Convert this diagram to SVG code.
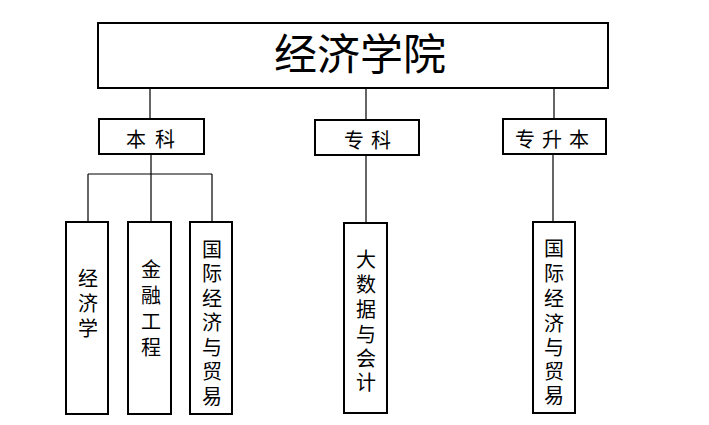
<svg xmlns="http://www.w3.org/2000/svg" width="709" height="425" viewBox="0 0 709 425">
<style>
.box{fill:#fff;stroke:#000;stroke-width:2}
.ln{fill:none;stroke:#000;stroke-width:1.2}
text{font-family:"Noto Sans CJK SC","Noto Sans",sans-serif;fill:#000;dominant-baseline:central;text-anchor:middle}
.t{font-size:20px}
.title{font-size:43px}
</style>
<rect width="709" height="425" fill="#fff"/>
<g id="connectors">
<path class="ln" d="M150 88V119M366 88V120M554 88V119"/>
<path class="ln" d="M151 154V222M88 174H212M88 174V222M212 174V222"/>
<path class="ln" d="M366 155V223M553 154V222"/>
</g>
<g id="n-root"><rect class="box" x="98" y="23" width="510" height="65"/><text class="title" x="360" y="51">经济学院</text></g>
<g id="n-benke"><rect class="box" x="99" y="119" width="105" height="35"/><text class="t" x="136 165" y="138">本科</text></g>
<g id="n-zhuanke"><rect class="box" x="315" y="120" width="104" height="35"/><text class="t" x="354 381" y="139">专科</text></g>
<g id="n-zsb"><rect class="box" x="503" y="119" width="103" height="35"/><text class="t" x="525 552 579" y="138">专升本</text></g>
<g id="n-jjx"><rect class="box" x="66" y="222" width="42" height="192"/><text class="t" x="88 88 88" y="277 302 327">经济学</text></g>
<g id="n-jrgc"><rect class="box" x="128" y="222" width="43" height="192"/><text class="t" x="151 151 151 151" y="268 294 320 346">金融工程</text></g>
<g id="n-gjjj1"><rect class="box" x="190" y="222" width="42" height="192"/><text class="t" x="212 212 212 212 212 212 212" y="248 272.5 297 321.5 346 370.5 395">国际经济与贸易</text></g>
<g id="n-dsj"><rect class="box" x="344" y="223" width="43" height="190"/><text class="t" x="366 366 366 366 366 366" y="258 283 308 333 357 381">大数据与会计</text></g>
<g id="n-gjjj2"><rect class="box" x="533" y="222" width="42" height="191"/><text class="t" x="554 554 554 554 554 554 554" y="247 272 297 322 346 370 394">国际经济与贸易</text></g>
</svg>
